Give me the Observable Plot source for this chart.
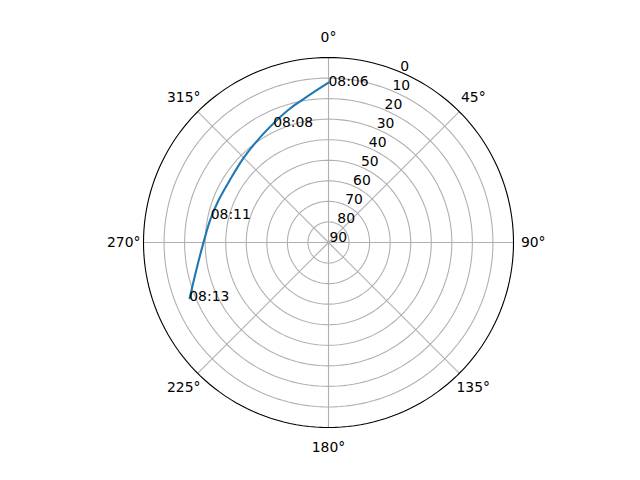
<!DOCTYPE html>
<html>
<head>
<meta charset="utf-8">
<script src="https://cdn.jsdelivr.net/npm/d3@7"></script>
<script src="https://cdn.jsdelivr.net/npm/@observablehq/plot@0.6"></script>
<style>
  html, body { margin: 0; padding: 0; background: #fff; }
  svg { display: block; }
</style>
</head>
<body>
<div id="chart"></div>
<script>
// Satellite pass track: azimuth (deg, clockwise from north) and elevation (deg)
const trackAz = [0, 355.6, 350.1, 344.0, 337.1, 330.2, 322.4, 314.2, 302.4, 291.0, 280.7, 271.1, 262.2, 255.5, 248.1];
const trackEl = [12.2, 15.7, 19.2, 22.2, 25.4, 28.0, 30.2, 31.8, 33.2, 32.7, 31.4, 29.5, 26.3, 22.7, 17.2];

// Time annotations
const labelTimes = ["08:06", "08:08", "08:11", "08:13"];
const labelAz = [0, 334.9, 282.6, 248.1];
const labelEl = [12.4, 26.5, 31.3, 17.0];

// Grid / tick definitions
const ringEls = [10, 20, 30, 40, 50, 60, 70, 80];
const rTickLabels = [0, 10, 20, 30, 40, 50, 60, 70, 80, 90];
const thetaTicks = [0, 45, 90, 135, 180, 225, 270, 315];

const track = trackAz.map((az, i) => ({az, el: trackEl[i]}));
const labels = labelTimes.map((t, i) => ({t, az: labelAz[i], el: labelEl[i]}));

const lon = az => 180 - az;
const font = "DejaVu Sans, sans-serif";

const chart = Plot.plot({
  width: 640,
  height: 480,
  marginTop: 57,
  marginBottom: 53,
  marginLeft: 143,
  marginRight: 127,
  style: {fontFamily: font, background: "#fff"},
  projection: {
    type: "azimuthal-equidistant",
    rotate: [0, -90],
    clip: false,
    domain: d3.geoCircle().center([0, 90]).radius(90)()
  },
  marks: [
    // elevation rings
    Plot.geo(ringEls, {
      geometry: el => d3.geoCircle().center([0, 90]).radius(90 - el)(),
      stroke: "#b0b0b0",
      strokeWidth: 1.1,
      fill: "none"
    }),
    // azimuth spokes
    Plot.link(thetaTicks, {
      x1: a => lon(a), y1: 90, x2: a => lon(a), y2: 0,
      stroke: "#b0b0b0",
      strokeWidth: 1.1
    }),
    // outer frame
    Plot.geo([0], {
      geometry: () => d3.geoCircle().center([0, 90]).radius(90)(),
      stroke: "black",
      strokeWidth: 1.1,
      fill: "none"
    }),
    // track
    Plot.line(track, {
      x: d => lon(d.az), y: "el",
      stroke: "#1f77b4",
      strokeWidth: 2.08,
      curve: "catmull-rom"
    }),
    // radial tick labels
    Plot.text(rTickLabels, {
      x: lon(22.5), y: d => d, text: d => String(d),
      textAnchor: "start", lineAnchor: "bottom",
      fontSize: 13.9, fill: "black", dy: -1, dx: 1
    }),
    // theta tick labels
    Plot.text(thetaTicks, {
      x: a => lon(a), y: -9.6, text: a => a + "°",
      textAnchor: "middle", lineAnchor: "middle",
      fontSize: 13.9, fill: "black"
    }),
    // time labels
    Plot.text(labels, {
      x: d => lon(d.az), y: "el", text: "t",
      textAnchor: "start", lineAnchor: "bottom",
      fontSize: 13.9, fill: "black", dy: 3
    })
  ]
});
document.getElementById("chart").appendChild(chart);
</script>
</body>
</html>
